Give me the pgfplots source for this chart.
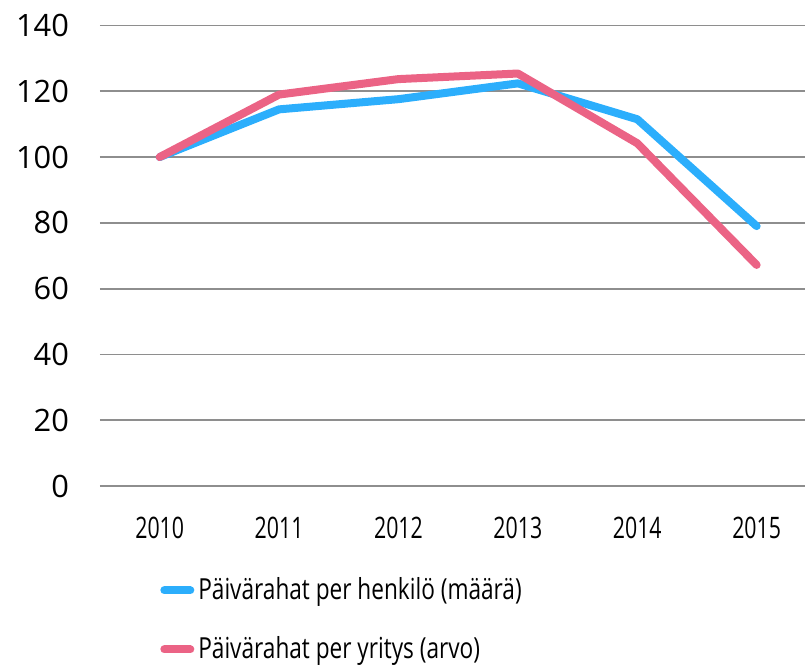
\documentclass[border=0pt]{standalone}
\usepackage{pgfplots}
\pgfplotsset{compat=1.18}
\usepackage{fontspec}
\setmainfont{Open Sans}
\newfontfamily\narrowfont[FakeStretch=0.72]{Open Sans}
\newfontfamily\legfont[FakeStretch=0.78]{Open Sans}
\definecolor{lblue}{HTML}{2CAEFC}
\definecolor{lpink}{HTML}{EB6385}
\definecolor{gridgray}{HTML}{8E8E8E}
\begin{document}
\begin{tikzpicture}
\path[use as bounding box] (-50pt,-90.5pt) rectangle (352.5pt,243pt);
\begin{axis}[scale only axis,width=352.5pt,height=230.25pt,
 xmin=-0.5,xmax=5.405,ymin=0,ymax=140,
 xtick={0,...,5},xticklabels={2010,2011,2012,2013,2014,2015},
 ytick={0,20,...,140},
 axis line style={draw=none},major tick length=0pt,
 ymajorgrids,grid style={gridgray,line width=0.9pt},
 tick label style={/pgf/number format/assume math mode=true},
 yticklabel style={font=\fontsize{15.4}{18}\selectfont,xshift=-12pt},
 xticklabel style={font=\narrowfont\fontsize{14.8}{17}\selectfont,yshift=-12pt},
 clip=false,
 legend style={at={(axis description cs:0.085,-0.19)},anchor=north west,draw=none,fill=none,
  font=\legfont\fontsize{14.5}{17}\selectfont,row sep=13pt,inner sep=0pt,
  /tikz/every even column/.style={column sep=1pt}},
 legend cell align=left,
 legend image code/.code={\draw[#1,line cap=round] (4pt,0pt) -- (17pt,0pt);},
]
\addplot[lblue,line width=4pt,line cap=round,line join=round] coordinates {(0,100) (1,114.5) (2,117.6) (3,122.4) (4,111.5) (5,79.0)};
\addlegendentry{Päivärahat per henkilö (määrä)}
\addplot[lpink,line width=4pt,line cap=round,line join=round] coordinates {(0,100) (1,119.0) (2,123.7) (3,125.4) (4,104.2) (5,67.2)};
\addlegendentry{Päivärahat per yritys (arvo)}
\end{axis}
\end{tikzpicture}
\end{document}
